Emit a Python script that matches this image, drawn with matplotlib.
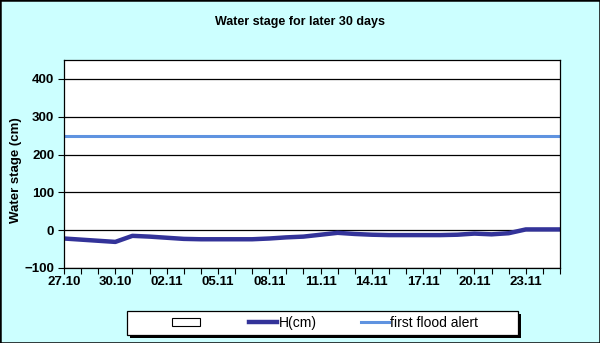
import numpy as np
import matplotlib.pyplot as plt
from matplotlib.patches import Rectangle

plt.rcParams['font.family'] = ['Liberation Sans', 'DejaVu Sans']

# data
dates = ["27.10", "28.10", "29.10", "30.10", "31.10", "01.11", "02.11", "03.11",
         "04.11", "05.11", "06.11", "07.11", "08.11", "09.11", "10.11", "11.11",
         "12.11", "13.11", "14.11", "15.11", "16.11", "17.11", "18.11", "19.11",
         "20.11", "21.11", "22.11", "23.11", "24.11", "25.11"]
h_cm = [-22, -25, -28, -31, -15, -17, -20, -23, -24, -24, -24, -24, -22, -19, -17,
        -12, -7, -10, -12, -13, -13, -13, -13, -12, -9, -11, -8, 2, 2, 2]
flood_alert = [250] * len(dates)

bg = '#CCFFFF'
W, H = 600, 343
fig = plt.figure(figsize=(6, 3.43), dpi=100, facecolor=bg)
ax = fig.add_axes([64/W, 75/H, 496/W, 208/H])
ax.set_facecolor('white')

x = np.arange(len(dates))
ax.plot(x, h_cm, color='#333399', lw=3.2, label='H(cm)')
ax.plot(x, flood_alert, color='#5f93e0', lw=2.2, label='first flood alert')

ax.set_xlim(0, len(dates) - 1)
ax.set_ylim(-100, 450)
ax.set_yticks([-100, 0, 100, 200, 300, 400])
ax.set_xticks(x[::3])
ax.set_xticklabels(dates[::3])
ax.set_xticks(x, minor=True)
ax.grid(axis='y', color='black', lw=0.9)
ax.set_axisbelow(True)
ax.tick_params(axis='both', which='both', direction='out', color='black', width=0.8)
ax.tick_params(axis='x', which='both', length=4, pad=2)
ax.tick_params(axis='y', length=4, pad=3)
for lab in ax.get_xticklabels() + ax.get_yticklabels():
    lab.set_fontweight('bold')
    lab.set_fontsize(9.5)
for s in ax.spines.values():
    s.set_color('black')
    s.set_linewidth(0.9)

ax.set_ylabel('Water stage (cm)', fontsize=9.5, fontweight='bold')
ax.yaxis.set_label_coords(-(64 - 22)/496, 0.47)
fig.text(0.5, 1 - 22/H, 'Water stage for later 30 days', ha='center', va='center',
         fontsize=9, fontweight='bold')

# legend frame with shadow, drawn separately so its width matches
fig.add_artist(Rectangle((130/W, 5/H), 391/W, 24/H, transform=fig.transFigure,
                         facecolor='black', edgecolor='none', zorder=1))
fig.add_artist(Rectangle((127/W, 8/H), 391/W, 24/H, transform=fig.transFigure,
                         facecolor='white', edgecolor='black', lw=0.9, zorder=2))

empty = Rectangle((0, 0), 1, 1, facecolor='white', edgecolor='black', lw=0.8)
handles = [empty] + ax.get_lines()
labels = [' ', 'H(cm)', 'first flood alert']
leg = fig.legend(handles, labels, ncol=3, loc='center',
                 bbox_to_anchor=(325/W, 20/H), frameon=False, fontsize=10,
                 handlelength=2.0, handleheight=0.55, handletextpad=0.1,
                 columnspacing=3.2, borderpad=0)
leg.set_zorder(3)

fig.add_artist(Rectangle((0, 0), 1, 1, transform=fig.transFigure, fill=False,
                         edgecolor='black', lw=1.8))

fig.savefig('out.png', dpi=100, facecolor=bg)
